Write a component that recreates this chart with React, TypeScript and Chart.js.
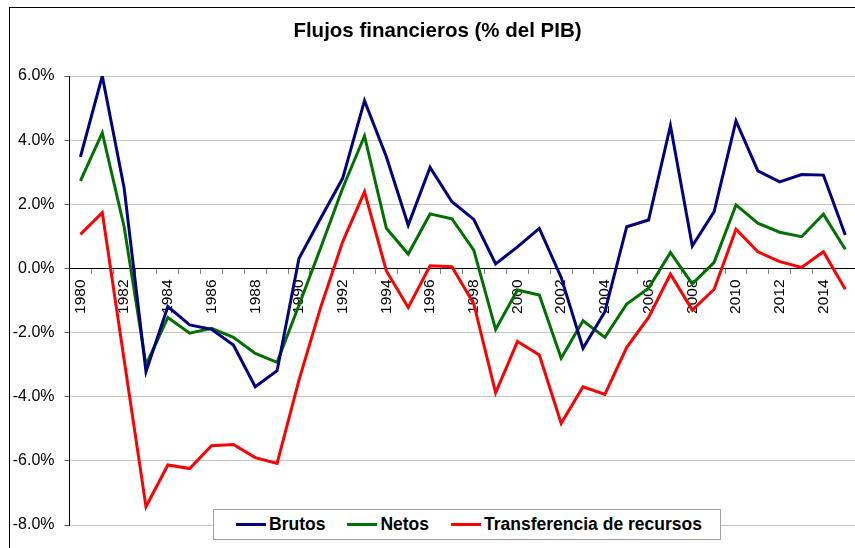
import React, { useEffect, useRef } from "react";
import { Chart, registerables } from "chart.js";

Chart.register(...registerables);

const years: string[] = [
  "1980","1981","1982","1983","1984","1985","1986","1987","1988","1989",
  "1990","1991","1992","1993","1994","1995","1996","1997","1998","1999",
  "2000","2001","2002","2003","2004","2005","2006","2007","2008","2009",
  "2010","2011","2012","2013","2014","2015",
];

const brutos: number[] = [
  3.48, 6.0, 2.51, -3.22, -1.19, -1.76, -1.9, -2.39, -3.69, -3.19,
  0.31, 1.57, 2.81, 5.23, 3.48, 1.35, 3.15, 2.08, 1.53, 0.14,
  0.67, 1.25, -0.28, -2.49, -1.35, 1.3, 1.51, 4.45, 0.7, 1.77,
  4.6, 3.04, 2.7, 2.93, 2.91, 1.04,
];

const netos: number[] = [
  2.73, 4.23, 1.3, -3.01, -1.53, -2.02, -1.87, -2.15, -2.65, -2.93,
  -1.15, 0.65, 2.5, 4.13, 1.25, 0.45, 1.7, 1.55, 0.57, -1.9,
  -0.67, -0.83, -2.8, -1.63, -2.15, -1.11, -0.62, 0.5, -0.48, 0.19,
  1.98, 1.41, 1.13, 0.99, 1.69, 0.6,
];

const transferencia: number[] = [
  1.06, 1.74, -2.85, -7.43, -6.13, -6.24, -5.53, -5.49, -5.9, -6.08,
  -3.48, -1.2, 0.83, 2.39, -0.08, -1.22, 0.08, 0.05, -1.1, -3.88,
  -2.28, -2.7, -4.83, -3.69, -3.93, -2.46, -1.53, -0.18, -1.3, -0.65,
  1.22, 0.52, 0.21, 0.03, 0.52, -0.65,
];

const seriesNames: string[] = ["Brutos", "Netos", "Transferencia de recursos"];
const seriesColors: string[] = ["#000080", "#007000", "#ff0000"];
const title = "Flujos financieros (% del PIB)";

const FONT = "'Liberation Sans', Arial, sans-serif";

export default function App() {
  const ref = useRef<HTMLCanvasElement | null>(null);

  useEffect(() => {
    if (!ref.current) return;
    const data = [brutos, netos, transferencia];
    const chart = new Chart(ref.current, {
      type: "line",
      data: {
        labels: years,
        datasets: seriesNames.map((name, i) => ({
          label: name,
          data: data[i],
          borderColor: seriesColors[i],
          backgroundColor: seriesColors[i],
          borderWidth: 3,
          pointRadius: 0,
          tension: 0,
          fill: false,
        })),
      },
      options: {
        responsive: false,
        animation: false,
        layout: { padding: { top: 76, bottom: 23, left: 0, right: 10.4 } },
        plugins: {
          legend: { display: false },
          title: { display: false },
          tooltip: { enabled: false },
        },
        scales: {
          x: {
            type: "category",
            position: { y: 0 } as any,
            offset: true,
            grid: {
              offset: true,
              drawOnChartArea: false,
              drawTicks: true,
              tickLength: 5,
              tickColor: "#808080",
            },
            border: { display: true, color: "#000000", width: 1 },
            ticks: {
              autoSkip: false,
              maxRotation: 90,
              minRotation: 90,
              padding: 6,
              color: "#000000",
              font: { family: FONT, size: 15.5 },
              callback: (_v: any, i: number) => (i % 2 === 0 ? years[i] : ""),
            },
          },
          y: {
            min: -8,
            max: 6,
            afterFit: (s: any) => {
              s.width = 69.5;
            },
            grid: {
              color: "#c4c4c4",
              borderDash: [1, 1],
              tickBorderDash: [],
              tickColor: "#606060",
              tickLength: 5,
            },
            border: { display: true, color: "#000000", width: 1 },
            ticks: {
              stepSize: 2,
              padding: 10,
              color: "#000000",
              font: { family: FONT, size: 16 },
              callback: (v: any) => Number(v).toFixed(1) + "%",
            },
          },
        },
      },
    });
    return () => chart.destroy();
  }, []);

  return (
    <div
      style={{
        position: "fixed",
        left: 0,
        top: 0,
        width: 855,
        height: 548,
        overflow: "hidden",
        background: "#ffffff",
        fontFamily: FONT,
      }}
    >
      <div
        style={{
          position: "absolute",
          left: 9,
          top: 7,
          width: 900,
          height: 600,
          borderLeft: "1px solid #000",
          borderTop: "1px solid #000",
        }}
      />
      <canvas
        ref={ref}
        width={870}
        height={548}
        style={{ position: "absolute", left: 0, top: 0, width: 870, height: 548 }}
      />
      <div
        style={{
          position: "absolute",
          left: 0,
          top: 18,
          width: 875,
          textAlign: "center",
          fontWeight: "bold",
          fontSize: 20.5,
          lineHeight: "24px",
          color: "#000",
        }}
      >
        {title}
      </div>
      <div
        style={{
          position: "absolute",
          left: 213,
          top: 509,
          width: 484,
          height: 29,
          border: "1px solid #a0a0a0",
          background: "#fff",
          display: "flex",
          alignItems: "center",
          paddingLeft: 22,
          boxSizing: "content-box",
          whiteSpace: "nowrap",
        }}
      >
        {seriesNames.map((name, i) => (
          <div
            key={name}
            style={{ display: "flex", alignItems: "center", marginRight: i < 2 ? 22 : 0 }}
          >
            <span
              style={{
                display: "inline-block",
                width: 30,
                height: 3,
                background: seriesColors[i],
                marginRight: 3,
              }}
            />
            <span style={{ fontWeight: "bold", fontSize: 17.5, color: "#000" }}>
              {name}
            </span>
          </div>
        ))}
      </div>
    </div>
  );
}
